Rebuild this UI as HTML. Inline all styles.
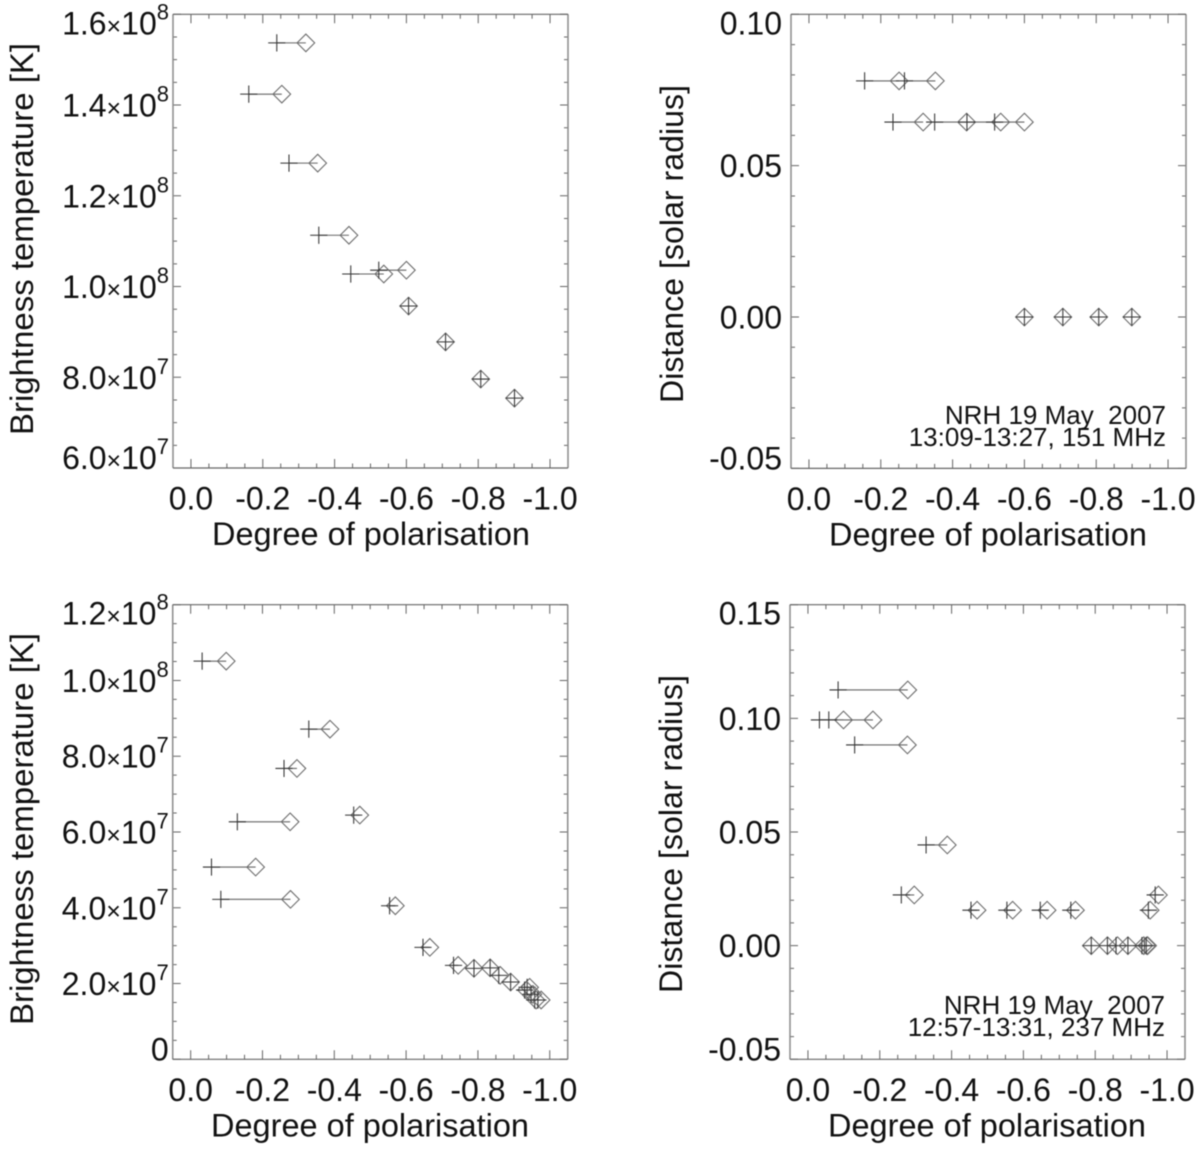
<!DOCTYPE html>
<html lang="en">
<head>
<meta charset="utf-8">
<title>Brightness temperature and distance against degree of polarisation</title>
<style>
html,body{margin:0;padding:0;background:#fff;}
#figure{display:block;width:1200px;height:1153px;filter:blur(0.4px);}
text{font-family:"Liberation Sans",Arial,sans-serif;fill:#111;}
</style>
</head>
<body>
<svg id="figure" xmlns="http://www.w3.org/2000/svg" width="1200" height="1153" viewBox="0 0 1200 1153"></svg>
<script>
// x axis shared by all panels
const polTickValues = [0, -0.2, -0.4, -0.6, -0.8, -1.0];
const polTickLabels = ["0.0", "-0.2", "-0.4", "-0.6", "-0.8", "-1.0"];

// y axis ticks
const temp151Ticks = [6e7, 8e7, 1e8, 1.2e8, 1.4e8, 1.6e8];
const temp237Ticks = [0, 2e7, 4e7, 6e7, 8e7, 1e8, 1.2e8];
const dist151Ticks = [-0.05, 0, 0.05, 0.10];
const dist151TickLabels = ["-0.05", "0.00", "0.05", "0.10"];
const dist237Ticks = [-0.05, 0, 0.05, 0.10, 0.15];
const dist237TickLabels = ["-0.05", "0.00", "0.05", "0.10", "0.15"];

// 151 MHz, temperature panel
const temp151Plus = [-0.239, -0.161, -0.273, -0.356, -0.445, -0.523, -0.606, -0.709, -0.807, -0.901];
const temp151Diamond = [-0.320, -0.253, -0.353, -0.440, -0.537, -0.600, -0.606, -0.709, -0.807, -0.901];
const temp151Values = [1.537e8, 1.424e8, 1.272e8, 1.113e8, 1.0276e8, 1.036e8, 9.57e7, 8.78e7, 7.96e7, 7.54e7];

// 151 MHz, distance panel
const dist151Plus = [-0.155, -0.266, -0.234, -0.350, -0.440, -0.517, -0.600, -0.707, -0.807, -0.899];
const dist151Diamond = [-0.251, -0.352, -0.318, -0.439, -0.534, -0.600, -0.600, -0.707, -0.807, -0.899];
const dist151Values = [0.078, 0.078, 0.0644, 0.0644, 0.0644, 0.0644, 0, 0, 0, 0];

// 237 MHz, temperature panel
const temp237Plus = [-0.032, -0.329, -0.260, -0.130, -0.454, -0.058, -0.084, -0.554, -0.647, -0.732, -0.789, -0.834, -0.858, -0.891, -0.937, -0.930, -0.948, -0.958, -0.967];
const temp237Diamond = [-0.099, -0.388, -0.296, -0.277, -0.471, -0.181, -0.278, -0.570, -0.666, -0.745, -0.789, -0.834, -0.862, -0.891, -0.944, -0.935, -0.953, -0.962, -0.976];
const temp237Values = [1.051e8, 8.715e7, 7.678e7, 6.269e7, 6.446e7, 5.074e7, 4.222e7, 4.053e7, 2.955e7, 2.480e7, 2.401e7, 2.414e7, 2.216e7, 2.040e7, 1.900e7, 1.828e7, 1.715e7, 1.565e7, 1.565e7];

// 237 MHz, distance panel
const dist237Plus = [-0.032, -0.329, -0.260, -0.130, -0.454, -0.058, -0.084, -0.554, -0.647, -0.732, -0.789, -0.834, -0.858, -0.891, -0.937, -0.930, -0.948, -0.942, -0.967];
const dist237Diamond = [-0.099, -0.388, -0.296, -0.277, -0.471, -0.181, -0.278, -0.570, -0.666, -0.745, -0.789, -0.834, -0.862, -0.891, -0.944, -0.935, -0.953, -0.946, -0.976];
const dist237Values = [0.0993, 0.0443, 0.0223, 0.0883, 0.0156, 0.0993, 0.1125, 0.0156, 0.0156, 0.0156, 0, 0, 0, 0, 0, 0, 0.0156, 0, 0.0223];

const polAxisMin = 0.05;
const polAxisMax = -1.05;

const svg = document.getElementById('figure');
const NS = 'http://www.w3.org/2000/svg';

function make(tag, attrs, parent) {
  const el = document.createElementNS(NS, tag);
  for (const k in attrs) el.setAttribute(k, attrs[k]);
  parent.appendChild(el);
  return el;
}

function sciParts(v) {
  const e = Math.floor(Math.log10(v) + 1e-9);
  return { mant: (v / Math.pow(10, e)).toFixed(1), exp: String(e) };
}

function drawPanel(cfg) {
  const g = make('g', {}, svg);
  
  
  const L = cfg.left, R = cfg.right, T = cfg.top, B = cfg.bottom;
  const sx = v => L + (v - polAxisMin) / (polAxisMax - polAxisMin) * (R - L);
  const sy = v => B - (v - cfg.yMin) / (cfg.yMax - cfg.yMin) * (B - T);

  const ticks = make('g', { stroke: '#666', 'stroke-width': 1, fill: 'none' }, g);
  
  

  // x minor ticks: four intervals between major ticks
  const step = (polTickValues[1] - polTickValues[0]) / 4;
  for (let i = -1; i <= 21; i++) {
    const px = sx(polTickValues[0] + i * step);
    const len = (i >= 0 && i % 4 === 0) ? 9 : 4.5;
    make('path', { d: 'M' + px + ' ' + B + 'v' + (-len) + 'M' + px + ' ' + T + 'v' + len }, ticks);
  }
  // y ticks
  const yStep = (cfg.yTicks[1] - cfg.yTicks[0]) / cfg.yMinor;
  const yCount = Math.round((cfg.yMax - cfg.yMin) / yStep);
  for (let i = 0; i <= yCount; i++) {
    const py = sy(cfg.yMin + i * yStep);
    const len = i % cfg.yMinor === 0 ? 8 : 4;
    make('path', { d: 'M' + L + ' ' + py + 'h' + len + 'M' + R + ' ' + py + 'h' + (-len) }, ticks);
  }

  // frame
  const sideSpines = make('path', { d: 'M' + L + ' ' + T + 'V' + B + 'M' + R + ' ' + T + 'V' + B, stroke: '#8a8a8a', 'stroke-width': 1.5, fill: 'none' }, g);
  
  
  const flatSpines = make('path', { d: 'M' + L + ' ' + T + 'H' + R + 'M' + L + ' ' + B + 'H' + R, stroke: '#666', 'stroke-width': 1.2, fill: 'none' }, g);
  
  

  // x tick labels
  polTickValues.forEach((v, i) => {
    const t = make('text', { x: sx(v), y: B + 41.5, 'text-anchor': 'middle', 'font-size': 32 }, g);
    
    
    t.textContent = polTickLabels[i];
  });

  // y tick labels
  cfg.yTicks.forEach((v, i) => {
    const isTop = i === cfg.yTicks.length - 1;
    const isBottom = i === 0;
    const baseY = sy(v) + (isTop ? 20 : isBottom ? 1 : 11.5);
    const t = make('text', { x: L - 4, y: baseY, 'text-anchor': 'end', 'font-size': 32 }, g);
    
    
    if (cfg.yLabels) {
      t.setAttribute('x', L - 9);
      t.textContent = cfg.yLabels[i];
    } else if (v === 0) {
      t.textContent = '0';
    } else {
      const p = sciParts(v);
      make('tspan', {}, t).textContent = p.mant;
      make('tspan', { 'font-size': 25 }, t).textContent = '\u00D7';
      make('tspan', {}, t).textContent = '10';
      make('tspan', { 'font-size': 22, dy: -15 }, t).textContent = p.exp;
    }
  });

  // axis titles
  const xt = make('text', { x: cfg.xTitleX, y: B + 77, 'font-size': 32, textLength: 318, lengthAdjust: 'spacingAndGlyphs' }, g);
  
  
  xt.textContent = 'Degree of polarisation';

  const yt = make('text', { transform: 'translate(' + cfg.yTitleX + ' ' + cfg.yTitleBottom + ') rotate(-90)', x: 0, y: 0, 'font-size': 32, textLength: cfg.yTitleLen, lengthAdjust: 'spacingAndGlyphs' }, g);
  
  
  yt.textContent = cfg.yTitle;

  // series
  const R_D = 8.8;
  const R_P = 8.6;
  cfg.vals.forEach((v, i) => {
    const y = sy(v), xp = sx(cfg.plus[i]), xd = sx(cfg.diamond[i]);
    const link = make('line', { x1: xp, y1: y, x2: xd, y2: y, stroke: '#666', 'stroke-width': 1.1 }, g);
    
    
    const dia = make('path', { d: 'M' + (xd - R_D) + ' ' + y + 'L' + xd + ' ' + (y - R_D) + 'L' + (xd + R_D) + ' ' + y + 'L' + xd + ' ' + (y + R_D) + 'Z', fill: 'none', stroke: '#6e6e6e', 'stroke-width': 1.1 }, g);
    
    
    const plus = make('path', { d: 'M' + (xp - R_P) + ' ' + y + 'H' + (xp + R_P) + 'M' + xp + ' ' + (y - R_P) + 'V' + (y + R_P), fill: 'none', stroke: '#333', 'stroke-width': 1.05 }, g);
    
    
  });

  // annotation
  if (cfg.note) {
    cfg.note.forEach((line, i) => {
      const n = make('text', { x: cfg.noteX, y: cfg.noteY + i * 22, 'text-anchor': 'end', 'font-size': 26 }, g);
      
      
      n.textContent = line;
    });
  }
}

drawPanel({
  name: 'temperature-panel-151mhz', left: 173, right: 568, top: 14.3, bottom: 468,
  yMin: 6e7, yMax: 1.6e8, yTicks: temp151Ticks, yMinor: 4,
  plus: temp151Plus, diamond: temp151Diamond, vals: temp151Values,
  xTitleX: 212, yTitleX: 33, yTitleBottom: 435, yTitleLen: 392, yTitle: 'Brightness temperature [K]'
});
drawPanel({
  name: 'distance-panel-151mhz', left: 791, right: 1186, top: 14.3, bottom: 468.4,
  yMin: -0.05, yMax: 0.10, yTicks: dist151Ticks, yLabels: dist151TickLabels, yMinor: 5,
  plus: dist151Plus, diamond: dist151Diamond, vals: dist151Values,
  xTitleX: 829, yTitleX: 683, yTitleBottom: 403, yTitleLen: 318, yTitle: 'Distance [solar radius]',
  note: ['NRH 19 May\u00A0\u00A02007', '13:09-13:27, 151 MHz'], noteX: 1166, noteY: 424
});
drawPanel({
  name: 'temperature-panel-237mhz', left: 172.7, right: 567.7, top: 604.7, bottom: 1059.3,
  yMin: 0, yMax: 1.2e8, yTicks: temp237Ticks, yMinor: 4,
  plus: temp237Plus, diamond: temp237Diamond, vals: temp237Values,
  xTitleX: 211, yTitleX: 33, yTitleBottom: 1025, yTitleLen: 392, yTitle: 'Brightness temperature [K]'
});
drawPanel({
  name: 'distance-panel-237mhz', left: 790, right: 1185, top: 604.7, bottom: 1059.3,
  yMin: -0.05, yMax: 0.15, yTicks: dist237Ticks, yLabels: dist237TickLabels, yMinor: 5,
  plus: dist237Plus, diamond: dist237Diamond, vals: dist237Values,
  xTitleX: 828, yTitleX: 682, yTitleBottom: 993, yTitleLen: 318, yTitle: 'Distance [solar radius]',
  note: ['NRH 19 May\u00A0\u00A02007', '12:57-13:31, 237 MHz'], noteX: 1165, noteY: 1014
});
</script>
</body>
</html>
